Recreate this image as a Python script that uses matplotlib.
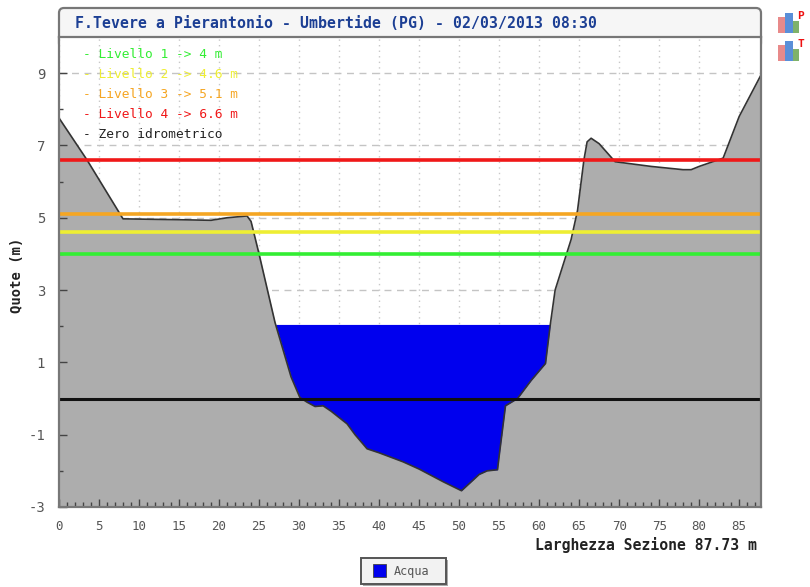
import numpy as np
import matplotlib
matplotlib.use("Agg")
import matplotlib.pyplot as plt
from matplotlib.patches import FancyBboxPatch, Rectangle

title = "F.Tevere a Pierantonio - Umbertide (PG) - 02/03/2013 08:30"
x_label = "Larghezza Sezione 87.73 m"
y_label = "Quote (m)"
section_x = [0, 3.5, 8, 14, 19, 21, 23.5, 24, 25, 27, 29, 30.1, 31, 32, 33, 34, 36, 37,
             38.5, 40, 43, 45, 48, 50.3, 52.5, 53.5, 54.8, 55, 55.8, 57.3, 59, 60.8, 61.4,
             62, 64, 64.8, 65.6, 66, 66.5, 67.5, 69.5, 74, 78, 79, 80, 83, 85, 87.73]
section_y = [7.76, 6.6, 4.97, 4.95, 4.93, 5.0, 5.05, 4.9, 4.0, 2.1, 0.6, 0.03, -0.1, -0.22,
             -0.2, -0.35, -0.7, -1.0, -1.39, -1.5, -1.75, -1.95, -2.3, -2.55, -2.1, -2.0,
             -1.97, -1.6, -0.2, 0.0, 0.5, 0.97, 2.05, 3.0, 4.4, 5.2, 6.6, 7.1, 7.2, 7.05,
             6.55, 6.42, 6.33, 6.33, 6.42, 6.65, 7.8, 8.95]
water_level = 2.05
zero_level = 0.0
level_values = [4, 4.6, 5.1, 6.6]
level_names = ["Livello 1 -> 4 m", "Livello 2 -> 4.6 m", "Livello 3 -> 5.1 m", "Livello 4 -> 6.6 m"]
level_colors = ["#33ee33", "#eeee33", "#f5a623", "#f01818"]
x_ticks = list(range(0, 90, 5))
y_ticks = [-3, -1, 1, 3, 5, 7, 9]
legend_name = "Acqua"

plt.rcParams["font.family"] = "DejaVu Sans Mono"
plt.rcParams["axes.unicode_minus"] = False
W, H = 810, 587
fig = plt.figure(figsize=(W / 100, H / 100), dpi=100)
L, R, T, B = 59, 761, 37, 507
ax = fig.add_axes([L / W, 1 - B / H, (R - L) / W, (B - T) / H])
ax.set_xlim(0, 87.73)
ax.set_ylim(-3, 10)
ax.set_axisbelow(False)  # ticks stay above the section fill

sx = np.array(section_x, dtype=float)
sy = np.array(section_y, dtype=float)
fine_x = np.linspace(sx[0], sx[-1], 2500)
fine_y = np.interp(fine_x, sx, sy)

ax.vlines(x_ticks, -3, 10, color="#c8c8c8", ls=(0, (1, 3)), lw=1, zorder=1)
ax.hlines(y_ticks, 0, 87.73, color="#c4c4c4", ls=(0, (5, 4)), lw=1, zorder=1)
ax.fill_between(fine_x, -3, fine_y, color="#adadad", lw=0, zorder=2)
ax.fill_between(fine_x, fine_y, water_level, where=fine_y < water_level,
                color="#0000ee", lw=0, zorder=2.2)
ax.plot(sx, sy, color="#333333", lw=1.2, zorder=3)
for v, c in zip(level_values, level_colors):
    ax.axhline(v, color=c, lw=2.6, zorder=4)
ax.axhline(zero_level, color="#111111", lw=2.2, zorder=4)

ax.set_xticks(x_ticks)
ax.set_xticks(range(0, 88), minor=True)
ax.set_yticks(y_ticks)
ax.set_yticks(range(-2, 10, 2), minor=True)
ax.tick_params(axis="x", which="major", direction="in", length=6, width=1, color="#444444",
               labelsize=9, labelcolor="#555555", pad=9)
ax.tick_params(axis="x", which="minor", direction="in", length=3.5, width=1, color="#444444")
ax.tick_params(axis="y", which="major", direction="in", length=6, width=1, color="#444444",
               labelsize=10, labelcolor="#555555", pad=10)
ax.tick_params(axis="y", which="minor", direction="in", length=3, width=1, color="#444444")
for s in ax.spines.values():
    s.set_color("#777777")
    s.set_linewidth(1.6)
    s.set_zorder(6)

tx = (83 - L) / (R - L)
for i, (name, c) in enumerate(zip(level_names, level_colors)):
    ax.text(tx, 1 - (54 + 20.3 * i - T) / (B - T), "- " + name, color=c, fontsize=9.3,
            va="center", ha="left", transform=ax.transAxes, zorder=7)
ax.text(tx, 1 - (135 - T) / (B - T), "- Zero idrometrico", color="#222222", fontsize=9.3,
        va="center", ha="left", transform=ax.transAxes, zorder=7)

fig.text(17 / W, 1 - 275 / H, y_label, rotation=90, fontsize=10, fontweight="bold",
         color="#222222", ha="center", va="center")
fig.text(757 / W, 1 - 545 / H, x_label, fontsize=10.6, fontweight="bold", color="#222222",
         ha="right", va="center")

# title box
bg = fig.add_axes([0, 0, 1, 1], zorder=-1)
bg.set_xlim(0, W)
bg.set_ylim(H, 0)
bg.axis("off")
bg.add_patch(FancyBboxPatch((L, 8), R - L, 40, boxstyle="round,pad=0,rounding_size=5",
                            fc="#f6f6f6", ec="#777777", lw=1.6))
bg.text(75, 24, title, fontsize=10.7, fontweight="bold", color="#1c3f94", ha="left", va="center")

# legend box
bg.add_patch(Rectangle((363, 560), 85, 26, fc="#aaaaaa", ec="none"))
bg.add_patch(Rectangle((361, 558), 85, 26, fc="#f2f2f2", ec="#555555", lw=1.4))
bg.add_patch(Rectangle((373, 564), 13, 13, fc="#0000ee", ec="#444444", lw=0.6))
bg.text(394, 571, legend_name, fontsize=8.5, color="#555555", ha="left", va="center")

# report icons
for top, letter in zip([13, 41], ["P", "T"]):
    bg.add_patch(Rectangle((778, top + 4), 7, 16, fc="#e88a8a", ec="none"))
    bg.add_patch(Rectangle((785, top), 8, 20, fc="#5a8fd8", ec="none"))
    bg.add_patch(Rectangle((793, top + 8), 6, 12, fc="#7fb26a", ec="none"))
    bg.text(801, top + 3, letter, fontsize=8, fontweight="bold", color="#ee1111", ha="center", va="center")

fig.savefig("out.png", dpi=100)
